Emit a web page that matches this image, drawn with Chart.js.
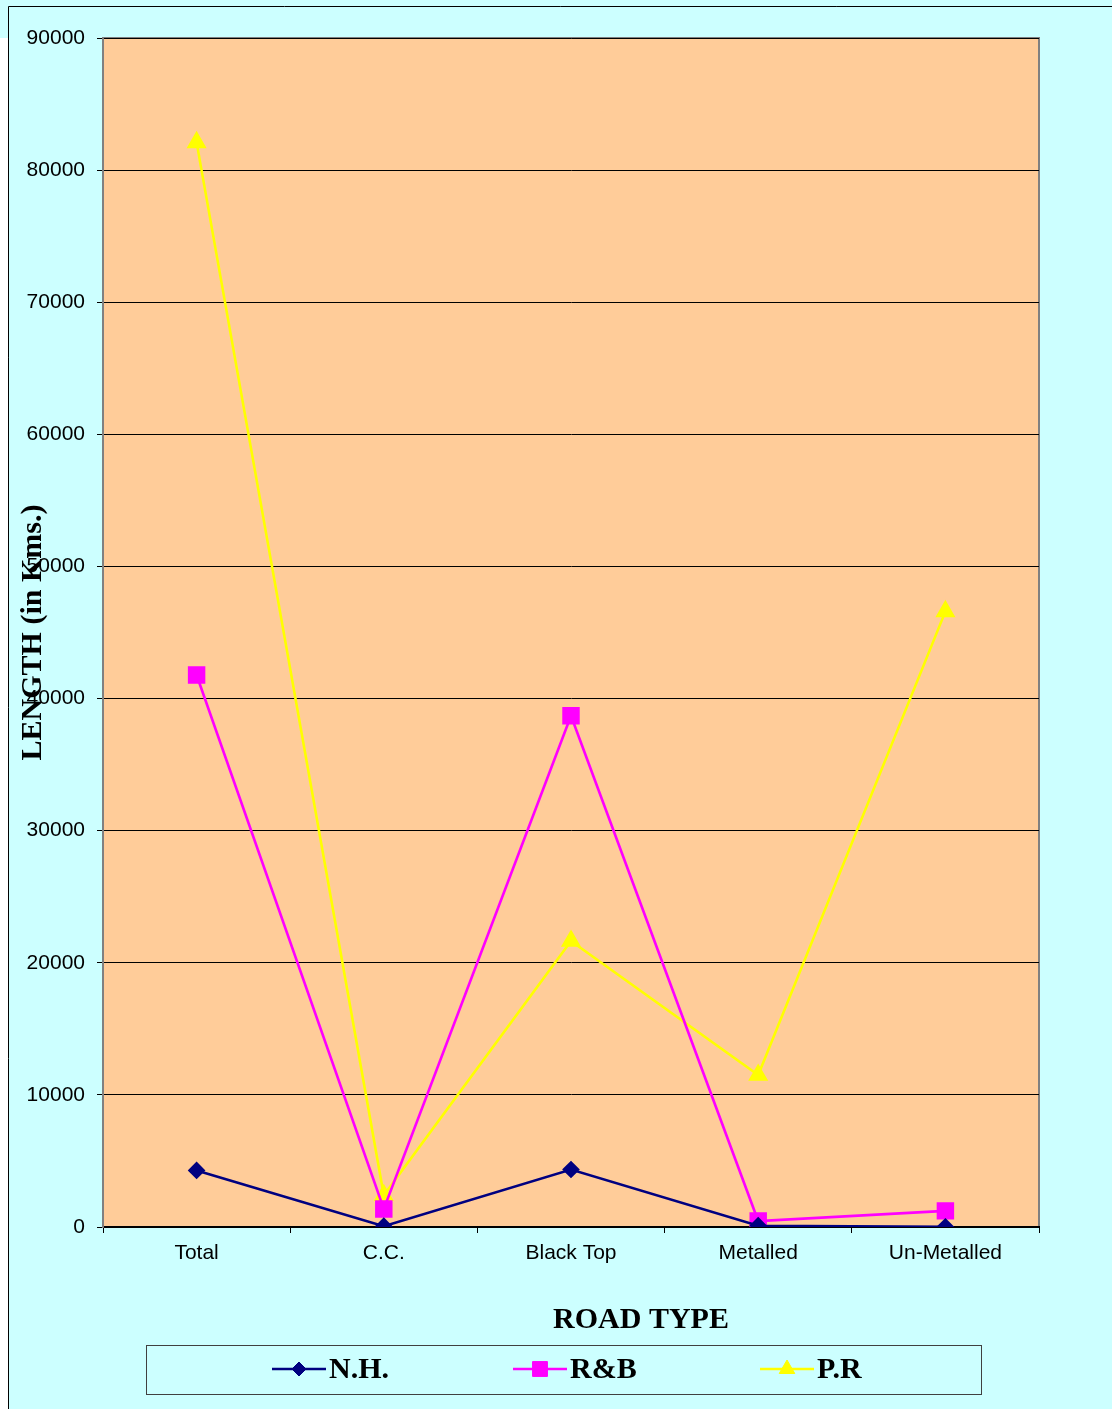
<!DOCTYPE html>
<html>
<head>
<meta charset="utf-8">
<script src="https://cdn.jsdelivr.net/npm/chart.js@4.4.0/dist/chart.umd.min.js"></script>
<style>
  html, body { margin: 0; padding: 0; background: #ffffff; }
  #wrap { position: relative; width: 1112px; height: 1409px; }
</style>
</head>
<body>
<div id="wrap"><canvas id="road-chart" width="1112" height="1409"></canvas></div>
<script>
// Road length by road type
const roadTypes = ["Total", "C.C.", "Black Top", "Metalled", "Un-Metalled"];
const nhLength = [4280, 60, 4350, 100, 20];
const rbLength = [41780, 1360, 38700, 450, 1220];
const prLength = [82100, 2400, 21650, 11500, 46600];
const yTicks = [0, 10000, 20000, 30000, 40000, 50000, 60000, 70000, 80000, 90000];

const serifBold = "'Liberation Serif', 'Times New Roman', serif";
const sans = "'Liberation Sans', Arial, sans-serif";

// Frame, plot background, x title and legend box
const framePlugin = {
  id: "frame",
  beforeDraw(chart) {
    const ctx = chart.ctx;
    const a = chart.chartArea;
    ctx.save();
    ctx.fillStyle = "#ccffff";
    ctx.fillRect(0, 0, chart.width, chart.height);
    ctx.fillStyle = "#ffffff";
    ctx.fillRect(0, 38, 8, chart.height);
    ctx.strokeStyle = "#000000";
    ctx.lineWidth = 1;
    ctx.beginPath();
    ctx.moveTo(8.5, chart.height);
    ctx.lineTo(8.5, 6.5);
    ctx.lineTo(chart.width, 6.5);
    ctx.stroke();
    ctx.fillStyle = "#ffcc99";
    ctx.fillRect(a.left, a.top, a.right - a.left, a.bottom - a.top);
    ctx.strokeStyle = "#808080";
    ctx.lineWidth = 2;
    ctx.strokeRect(a.left, a.top, a.right - a.left, a.bottom - a.top);
    ctx.restore();
  },
  afterDraw(chart) {
    const ctx = chart.ctx;
    ctx.save();
    // x axis title
    ctx.fillStyle = "#000000";
    ctx.font = "bold 30px " + serifBold;
    ctx.textAlign = "center";
    ctx.textBaseline = "middle";
    ctx.fillText("ROAD TYPE", 641, 1320);

    // legend
    ctx.strokeStyle = "#404040";
    ctx.lineWidth = 1;
    ctx.strokeRect(146.5, 1345.5, 835, 49);
    const starts = [272, 513, 760];
    chart.data.datasets.forEach((ds, i) => {
      const x0 = starts[i];
      const y = 1369;
      ctx.strokeStyle = ds.borderColor;
      ctx.lineWidth = ds.borderWidth;
      ctx.beginPath();
      ctx.moveTo(x0, y);
      ctx.lineTo(x0 + 54, y);
      ctx.stroke();
      ctx.fillStyle = ds.borderColor;
      ctx.strokeStyle = ds.borderColor;
      ctx.lineWidth = 1;
      Chart.helpers.drawPoint(ctx, {
        pointStyle: ds.pointStyle,
        radius: ds.pointRadius,
        rotation: 0,
        borderWidth: 1
      }, x0 + 27, y);
      ctx.fillStyle = "#000000";
      ctx.font = "bold 30px " + serifBold;
      ctx.textAlign = "left";
      ctx.fillText(ds.label, x0 + 57, y + 1);
    });
    ctx.restore();
  }
};

function seriesStyle(color, style, radius) {
  return {
    borderColor: color,
    backgroundColor: color,
    pointBackgroundColor: color,
    pointBorderColor: color,
    pointStyle: style,
    pointRadius: radius,
    pointHoverRadius: radius,
    borderWidth: 2.6,
    tension: 0,
    fill: false
  };
}

new Chart(document.getElementById("road-chart"), {
  type: "line",
  data: {
    labels: roadTypes,
    datasets: [
      Object.assign({ label: "N.H.", data: nhLength }, seriesStyle("#000080", "rectRot", 7)),
      Object.assign({ label: "R&B", data: rbLength }, seriesStyle("#ff00ff", "rect", 10.5)),
      Object.assign({ label: "P.R", data: prLength }, seriesStyle("#ffff00", "triangle", 9))
    ]
  },
  options: {
    responsive: false,
    animation: false,
    devicePixelRatio: 1,
    layout: { padding: { left: 0, top: 38, right: 73, bottom: 69 } },
    plugins: {
      legend: { display: false },
      tooltip: { enabled: false }
    },
    scales: {
      x: {
        offset: true,
        afterFit: (scale) => { scale.height = 113; },
        grid: {
          offset: true,
          drawOnChartArea: false,
          color: "#000000",
          tickLength: 6
        },
        border: { color: "#000000", width: 2 },
        ticks: {
          color: "#000000",
          padding: 8,
          maxRotation: 0,
          font: { family: sans, size: 21 }
        }
      },
      y: {
        min: 0,
        max: 90000,
        afterFit: (scale) => { scale.width = 103; },
        afterBuildTicks: (scale) => { scale.ticks = yTicks.map((v) => ({ value: v })); },
        grid: { color: "#000000", lineWidth: 1, tickLength: 6 },
        border: { color: "#808080", width: 2 },
        title: {
          display: true,
          text: "LENGTH (in Kms.)",
          color: "#000000",
          padding: { top: 15, bottom: 0 },
          font: { family: serifBold, size: 30, weight: "bold" }
        },
        ticks: {
          color: "#000000",
          padding: 12,
          font: { family: sans, size: 21 },
          callback: (v) => String(v)
        }
      }
    }
  },
  plugins: [framePlugin]
});
</script>
</body>
</html>
